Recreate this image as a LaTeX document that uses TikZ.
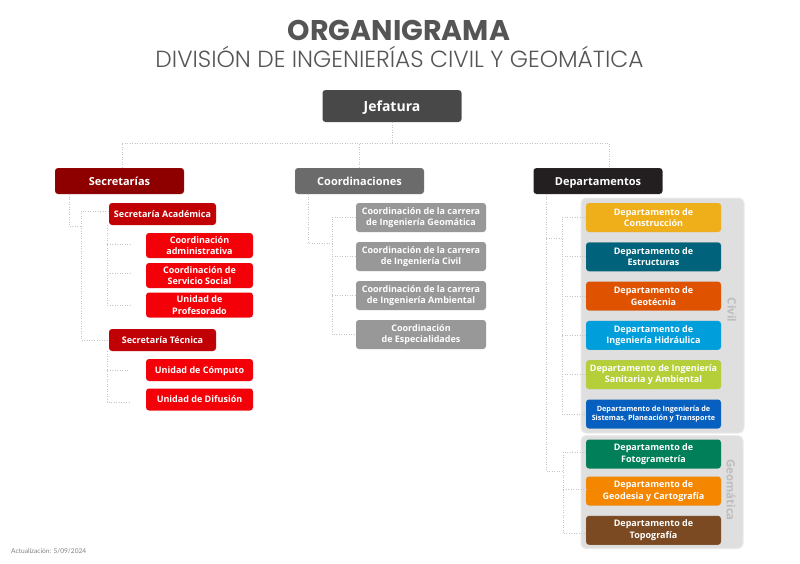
\documentclass[tikz,border=0pt]{standalone}
\usepackage{fontspec}
\setmainfont{Open Sans}
\newfontfamily\titlefont{Poppins}
\newfontfamily\lightfont{Poppins Light}
\newfontfamily\footfont{Lato}
\usetikzlibrary{shapes.geometric,arrows}
\definecolor{linegray}{HTML}{C4C4C4}
\definecolor{panelgray}{HTML}{DFDFDF}
\definecolor{panelrim}{HTML}{EAEAEA}
\definecolor{panelword}{HTML}{BDBDBD}
\definecolor{titlegray}{HTML}{555555}
\definecolor{jefcolor}{HTML}{484848}
\definecolor{secdark}{HTML}{8E0000}
\definecolor{secmid}{HTML}{C10005}
\definecolor{secred}{HTML}{F40008}
\definecolor{coordark}{HTML}{6B6B6B}
\definecolor{coorlight}{HTML}{989898}
\definecolor{depdark}{HTML}{231F20}
\definecolor{depa}{HTML}{EFAF1B}
\definecolor{depb}{HTML}{00637B}
\definecolor{depc}{HTML}{DF5300}
\definecolor{depd}{HTML}{009FDB}
\definecolor{depe}{HTML}{B5CF3A}
\definecolor{depf}{HTML}{0760BF}
\definecolor{depg}{HTML}{007F58}
\definecolor{deph}{HTML}{F48600}
\definecolor{depi}{HTML}{7B4A22}
\tikzstyle{box} = [ rectangle, rounded corners=3pt, text=white, text centered, %
                    inner sep=0pt, font=\bfseries\fontsize{9}{11.4}\selectfont, %
                    align=center, draw=white!70!black, draw opacity=0.25 ]
\tikzstyle{headbox} = [ box, minimum width=129pt, minimum height=26pt, text height=8pt, %
                    text depth=0pt, font=\bfseries\fontsize{11}{12}\selectfont ]
\tikzstyle{secbox} = [ box, minimum width=107pt, minimum height=22pt, text height=6.5pt, %
                    text depth=0pt, fill=secmid ]
\tikzstyle{unitbox} = [ box, minimum width=107pt, minimum height=25pt, fill=secred ]
\tikzstyle{coorbox} = [ box, minimum width=130pt, minimum height=29pt, fill=coorlight ]
\tikzstyle{depbox} = [ box, minimum width=135pt, minimum height=29pt, node distance=39.3pt ]
\tikzstyle{panel} = [ rectangle, rounded corners=5pt, fill=panelgray, draw=panelrim, line width=1pt ]
\tikzstyle{wire} = [ linegray, dash pattern=on 1pt off 1.5pt, line width=1pt ]

\begin{document}
\begin{tikzpicture}[x=1pt,y=-1pt,node distance=39pt]
      \useasboundingbox (0,0) rectangle (800,563);
      % Titles
      \node (title) at (399,30) {\titlefont\bfseries\fontsize{28.5}{32}\selectfont\color{titlegray}ORGANIGRAMA};
      \node (subtitle) at (399.5,57) {\lightfont\fontsize{23.3}{28}\selectfont\color{titlegray}DIVISIÓN DE INGENIERÍAS CIVIL Y GEOMÁTICA};
      \node (update) [anchor=west,inner sep=0pt] at (11,551.5) {\footfont\fontsize{6.6}{8}\selectfont\color{gray}Actualización: 5/09/2024};
      % Panels
      \node (civil) [panel,minimum width=163pt,minimum height=235pt] at (662.5,315.5) {};
      \node (geomatica) [panel,minimum width=162pt,minimum height=113pt] at (662,492) {};
      \node (civilword) [rotate=-90,text=panelword] at (732,310) {\bfseries\fontsize{11.5}{12}\selectfont Civil};
      \node (geoword) [rotate=-90,text=panelword] at (731,490) {\bfseries\fontsize{11.5}{12}\selectfont Geomática};
      % Boxes
      \node (jefatura) [headbox,fill=jefcolor,minimum width=139pt,minimum height=32pt,text height=10pt] at (392,106) {\fontsize{14}{16}\selectfont Jefatura};
      \node (secretarias) [headbox,fill=secdark] at (119.5,181) {Secretarías};
      \node (coordinaciones) [headbox,fill=coordark] at (359.5,181) {Coordinaciones};
      \node (departamentos) [headbox,fill=depdark] at (598,181) {Departamentos};
      % Secretarias
      \node (academica) [secbox] at (162.5,214) {Secretaría Académica};
      \node (administrativa) [unitbox] at (199.5,245.5) {Coordinación\\administrativa};
      \node (social) [unitbox,below of=administrativa,yshift=9pt] {Coordinación de\\Servicio Social};
      \node (profesorado) [unitbox,below of=social,yshift=9.5pt] {Unidad de\\Profesorado};
      \node (tecnica) [secbox] at (162.5,340) {Secretaría Técnica};
      \node (computo) [unitbox,minimum height=22pt,text height=6.5pt,text depth=0pt] at (199.5,370) {Unidad de Cómputo};
      \node (difusion) [unitbox,minimum height=22pt,text height=6.5pt,text depth=0pt,below of=computo,yshift=9.5pt] {Unidad de Difusión};
      % Coordinaciones
      \node (geomcarrera) [coorbox] at (421,217.5) {Coordinación de la carrera\\de Ingeniería Geomática};
      \node (civilcarrera) [coorbox,below of=geomcarrera] {Coordinación de la carrera\\de Ingeniería Civil};
      \node (ambiental) [coorbox,below of=civilcarrera] {Coordinación de la carrera\\de Ingeniería Ambiental};
      \node (especial) [coorbox,below of=ambiental] {Coordinación\\de Especialidades};
      % Departamentos
      \node (construccion) [depbox,fill=depa] at (653.5,217.5) {Departamento de\\Construcción};
      \node (estructuras) [depbox,fill=depb,below of=construccion] {Departamento de\\Estructuras};
      \node (geotecnia) [depbox,fill=depc,below of=estructuras] {Departamento de\\Geotécnia};
      \node (hidraulica) [depbox,fill=depd,below of=geotecnia] {Departamento de\\Ingeniería Hidráulica};
      \node (sanitaria) [depbox,fill=depe,below of=hidraulica] {Departamento de Ingeniería\\Sanitaria y Ambiental};
      \node (sistemas) [depbox,fill=depf,below of=sanitaria,font=\bfseries\fontsize{7.25}{9}\selectfont] {Departamento de Ingeniería de\\Sistemas, Planeación y Transporte};
      \node (fotogrametria) [depbox,fill=depg] at (653.5,454) {Departamento de\\Fotogrametría};
      \node (geodesia) [depbox,fill=deph,below of=fotogrametria,yshift=2.3pt] {Departamento de\\Geodesia y Cartografía};
      \node (topografia) [depbox,fill=depi,below of=geodesia] {Departamento de\\Topografía};
      % Wires
      \coordinate (bus) at (392,143);
      \draw [wire] (jefatura) -- (bus);
      \draw [wire] ([xshift=2.5pt]secretarias.north) |- (bus) -| ([xshift=11pt]departamentos.north);
      \draw [wire] (coordinaciones.north) -- (coordinaciones.north |- bus);
      % Wires of Secretarias
      \coordinate (secjoin) at (81,226);
      \draw [wire] ([xshift=-50.5pt]secretarias.south) |- (secjoin);
      \draw [wire] (academica.west |- 0,211) -| (secjoin) |- (tecnica.west);
      \coordinate (acatrunk) at (107,225);
      \coordinate (acatick) at (130,244);
      \coordinate (soctick) at (130,273);
      \coordinate (protick) at (130,305);
      \draw [wire] (acatrunk) |- (protick);
      \draw [wire] (acatrunk |- acatick) -- (acatick);
      \draw [wire] (acatrunk |- soctick) -- (soctick);
      \coordinate (tectrunk) at (107,351);
      \coordinate (comtick) at (129,370);
      \coordinate (diftick) at (129,402);
      \draw [wire] (tectrunk) |- (diftick);
      \draw [wire] (tectrunk |- comtick) -- (comtick);
      % Wires of Coordinaciones
      \coordinate (coorjoin) at (332,243);
      \draw [wire] ([xshift=-51.5pt]coordinaciones.south) |- (coorjoin);
      \draw [wire] (geomcarrera.west) -| (coorjoin |- especial.west) -- (especial.west);
      \foreach \coor in {civilcarrera,ambiental}
        \draw [wire] (coorjoin |- \coor.west) -- (\coor.west);
      % Wires of Departamentos
      \coordinate (depjoin) at (562,238);
      \coordinate (geojoin) at (563,471);
      \draw [wire] ([xshift=-52pt]departamentos.south) |- (geojoin);
      \draw [wire] (depjoin -| departamentos.south) ++(-52pt,0) -- (depjoin);
      \draw [wire] (construccion.west) -| (depjoin |- sistemas.west) -- (sistemas.west);
      \foreach \dep in {estructuras,geotecnia,hidraulica,sanitaria}
        \draw [wire] (depjoin |- \dep.west) -- (\dep.west);
      \draw [wire] ([yshift=1.7pt]fotogrametria.west) -| ([yshift=-3.3pt]geojoin |- topografia.west) -- ([yshift=-3.3pt]topografia.west);
      \draw [wire] ([yshift=2pt]geojoin |- geodesia.west) -- ([yshift=2pt]geodesia.west);
    \end{tikzpicture}
\end{document}
